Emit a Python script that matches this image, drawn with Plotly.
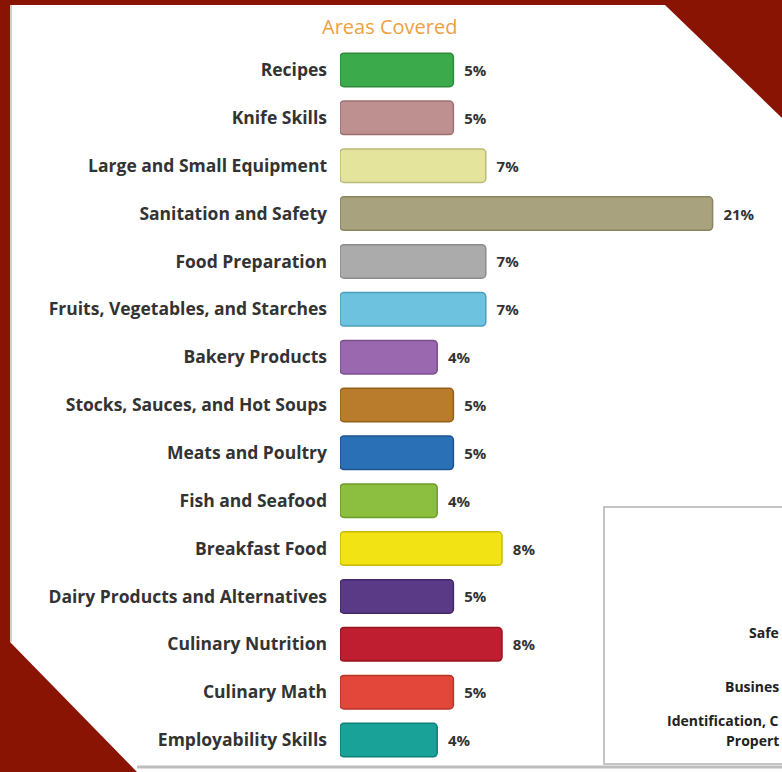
import plotly.graph_objects as go

categories = [
    "Recipes", "Knife Skills", "Large and Small Equipment", "Sanitation and Safety",
    "Food Preparation", "Fruits, Vegetables, and Starches", "Bakery Products",
    "Stocks, Sauces, and Hot Soups", "Meats and Poultry", "Fish and Seafood",
    "Breakfast Food", "Dairy Products and Alternatives", "Culinary Nutrition",
    "Culinary Math", "Employability Skills",
]
values = [5, 5, 7, 21, 7, 7, 4, 5, 5, 4, 8, 5, 8, 5, 4]
labels = [f"  {v}%" for v in values]
colors = [
    "#3AAA4A", "#BE9090", "#E4E49C", "#A8A27E", "#ABABAB", "#6CC2DF", "#9A68AE",
    "#B97C2C", "#2A70B6", "#8CBF3F", "#F2E414", "#5A3A86", "#BE1E30", "#E2473A",
    "#18A298",
]
line_colors = [
    "#2E8A3A", "#9C7070", "#BABA7A", "#8A845F", "#8C8C8C", "#4E9EBB", "#7C4E90",
    "#946018", "#1C5690", "#6E9C2C", "#C8BA08", "#422868", "#98141F", "#B83428",
    "#0E807A",
]
side_texts = ["Safe", "Busines", "Identification, C", "Propert"]
base_offset = -2

W, H = 782, 772
ML, MR, MT, MB = 340, 22, 46, 8
PW, PH = W - ML - MR, H - MT - MB


def px(x):
    return (x - ML) / PW


def py(y):
    return (H - MB - y) / PH


def path(points):
    return "M " + " L ".join(f"{px(x)},{py(y)}" for x, y in points) + " Z"


fig = go.Figure(
    go.Bar(
        y=categories,
        x=[v - base_offset for v in values],
        base=base_offset,
        orientation="h",
        marker=dict(color=colors, line=dict(color=line_colors, width=1.5)),
        text=labels,
        textposition="outside",
        textfont=dict(family="Open Sans", size=15, color="#333333", weight="bold"),
        cliponaxis=False,
        width=0.7,
        hoverinfo="skip",
    )
)

shapes = [
    dict(type="path", xref="paper", yref="paper", layer="below",
         path=path([(10, 5), (665, 5), (782, 118), (782, 772), (137, 772), (10, 642)]),
         fillcolor="white", line=dict(width=0)),
    dict(type="line", xref="paper", yref="paper", layer="below",
         x0=px(11), y0=py(5), x1=px(11), y1=py(642),
         line=dict(color="#D0D0D0", width=2)),
    dict(type="line", xref="paper", yref="paper", layer="below",
         x0=px(137), y0=py(767), x1=px(782), y1=py(767),
         line=dict(color="#BDBDBD", width=3)),
    dict(type="rect", xref="paper", yref="paper", layer="below",
         x0=px(604), y0=py(507), x1=px(800), y1=py(764),
         fillcolor="white", line=dict(color="#C4C4C4", width=2)),
]

annotations = [
    dict(text="Areas Covered", x=px(389), y=py(27), xref="paper", yref="paper",
         xanchor="center", yanchor="middle", showarrow=False,
         font=dict(family="Open Sans", size=20, color="#EFA040")),
]
side_pos = [632, 686, 720, 740]
for t, y in zip(side_texts, side_pos):
    annotations.append(dict(text=t, x=px(781), y=py(y), xref="paper", yref="paper",
                            xanchor="right", yanchor="middle", showarrow=False,
                            font=dict(family="Open Sans", size=14, color="#222222", weight="bold")))

fig.update_layout(
    width=W, height=H,
    margin=dict(l=ML, r=MR, t=MT, b=MB, pad=0),
    paper_bgcolor="#8A1404",
    plot_bgcolor="rgba(0,0,0,0)",
    showlegend=False,
    barcornerradius=4,
    xaxis=dict(range=[base_offset, base_offset + PW / 16.2], visible=False, fixedrange=True),
    yaxis=dict(autorange="reversed", showgrid=False, zeroline=False, showline=False,
               ticks="", ticklabelstandoff=12, fixedrange=True,
               tickfont=dict(family="Open Sans", size=17.5, color="#333333", weight="bold")),
    shapes=shapes,
    annotations=annotations,
)

fig.write_html("out.html", config={"displayModeBar": False},
               post_script="document.body.style.margin='0';")
